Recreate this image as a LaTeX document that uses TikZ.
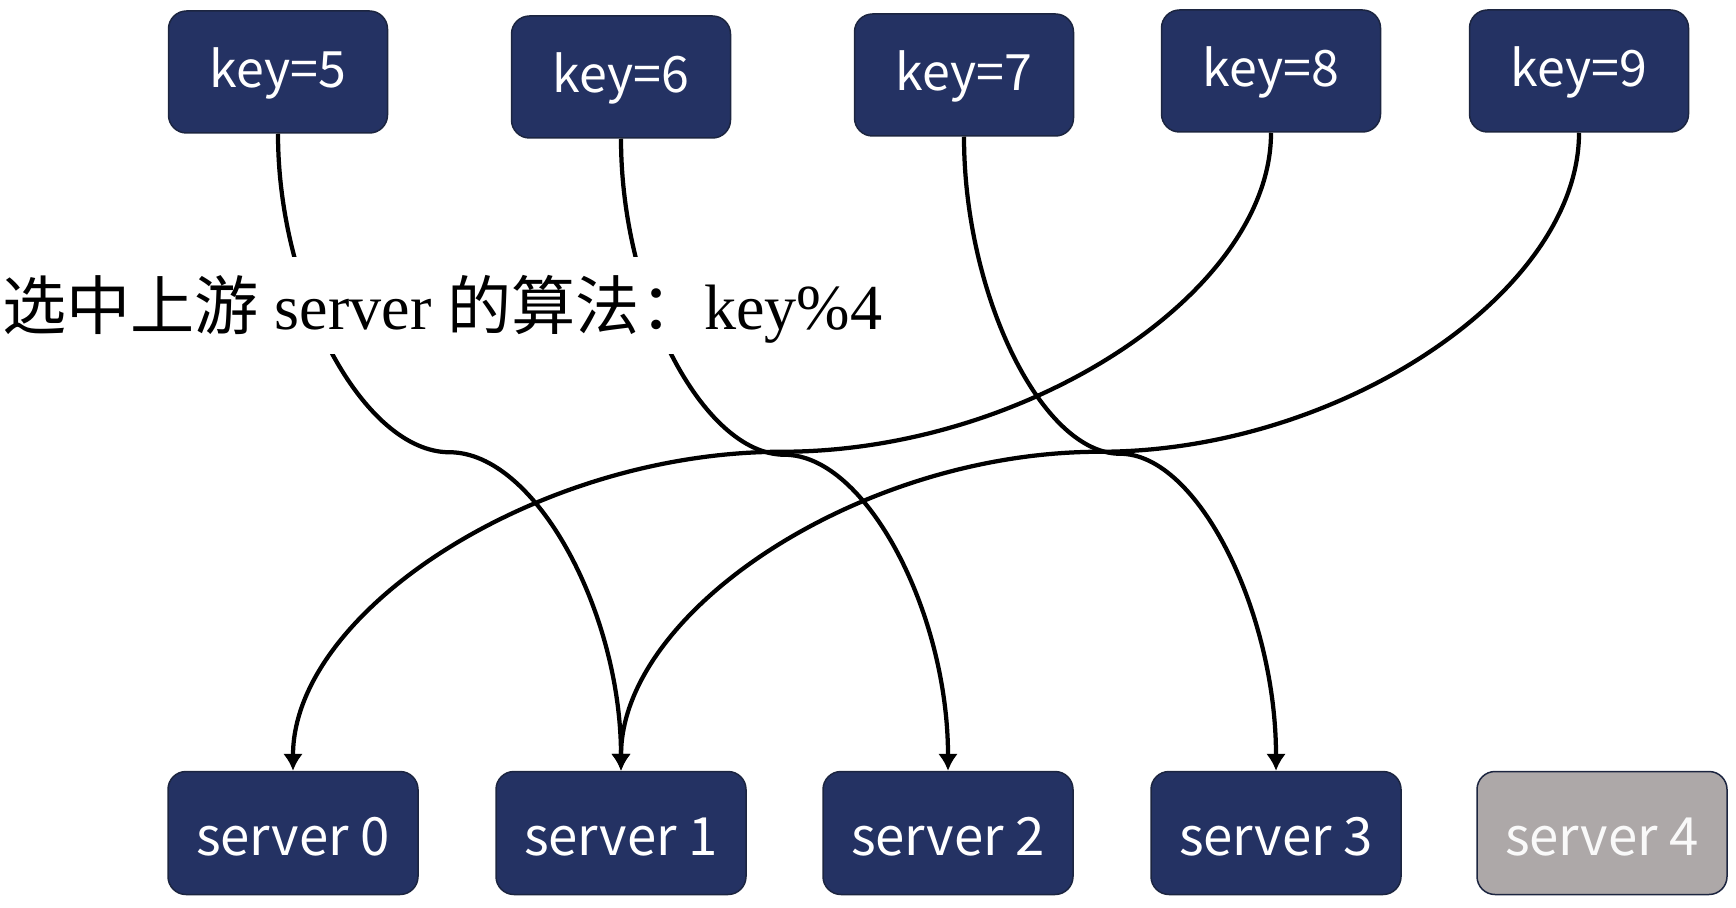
\documentclass[tikz,border=0pt]{standalone}
\usepackage{fontspec}
\setmainfont{Liberation Serif}
\newfontfamily\cjk{Noto Sans CJK SC}
\usepackage{xcolor}
\usepackage{tikz}
\usetikzlibrary{positioning, calc, arrows.meta}
\definecolor{keyblue}{HTML}{243263}
\definecolor{edgeblue}{HTML}{1C2540}
\definecolor{downgray}{HTML}{ADA8A8}

\tikzset{
	keybox/.style={draw=edgeblue, line width=0.3mm, fill=keyblue, rounded corners=3.6mm, minimum width=43.8mm, minimum height=24.4mm, text=white, text height=8mm, text depth=1.6mm, font=\cjk\fontsize{28.5}{34}\selectfont},
	serverbox/.style={keybox, minimum width=50mm, minimum height=24.6mm, text height=10mm, text depth=1.2mm, font=\cjk\fontsize{30}{36}\selectfont},
	link/.style={line width=0.85mm, -{Latex[length=3.4mm, width=4mm]}},
	curvedconn/.style={to path={let \p1=(\tikztostart), \p2=(\tikztotarget) in
		.. controls (\x1,{0.75*\y1+0.25*\y2}) and ({0.75*\x1+0.25*\x2},{0.5*\y1+0.5*\y2})
		.. ({0.5*\x1+0.5*\x2},{0.5*\y1+0.5*\y2})
		.. controls ({0.25*\x1+0.75*\x2},{0.5*\y1+0.5*\y2}) and (\x2,{0.25*\y1+0.75*\y2})
		.. (\x2,\y2) \tikztonodes}}
}

\begin{document}
\begin{tikzpicture}[x=0.2mm, y=-0.2mm]
				\useasboundingbox (0,0) rectangle (1736,908);
				%% keys
				\node[keybox] (k5) at (278,72) {key=5};
				\node[keybox] (k6) at (621,77) {key=6};
				\node[keybox] (k7) at (964,75) {key=7};
				\node[keybox] (k8) at (1271,71) {key=8};
				\node[keybox] (k9) at (1579,71) {key=9};
				%% servers
				\node[serverbox] (s0) at (293,833) {server 0};
				\node[serverbox] (s1) at (621,833) {server 1};
				\node[serverbox] (s2) at (948,833) {server 2};
				\node[serverbox] (s3) at (1276,833) {server 3};
				\node[serverbox, fill=downgray, text=white!95!gray] (s4) at (1602,833) {server 4};
				
				\draw [link] (k5.south) to[curvedconn] (s1.north);
				\draw [link] (k6.south) to[curvedconn] (s2.north);
				\draw [link] (k7.south) to[curvedconn] (s3.north);
				\draw [link] (k8.south) to[curvedconn] (s0.north);
				\draw [link] (k9.south) to[curvedconn] (s1.north);
				
				\node[anchor=base west, fill=white, inner sep=0pt, inner xsep=1mm, text height=14.6mm, text depth=4.8mm, font=\fontsize{36.5}{44}\selectfont] (algo) at (-3,330) {{\cjk 选中上游} server {\cjk 的算法：}key\%4};
\end{tikzpicture}
\end{document}
